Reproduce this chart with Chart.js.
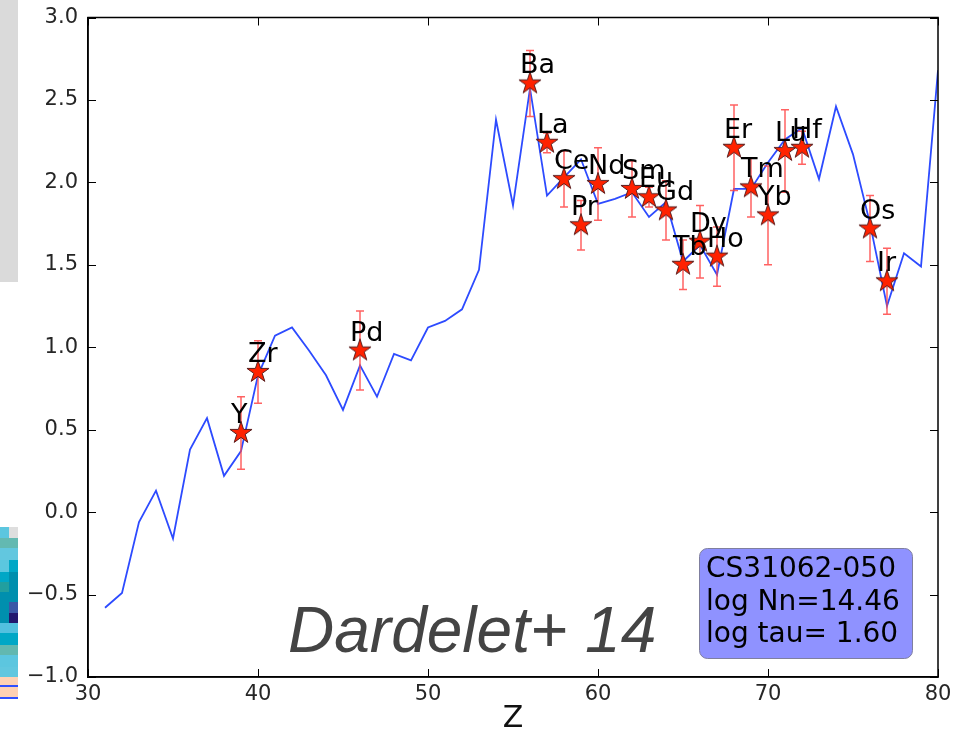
<!DOCTYPE html>
<html>
<head>
<meta charset="utf-8">
<script src="https://cdn.jsdelivr.net/npm/chart.js@4.4.1/dist/chart.umd.min.js"></script>
<style>
body { margin: 0; background: #fff; }
#wrap { position: relative; width: 966px; height: 737px; }
.cell { position: absolute; width: 9px; }
</style>
</head>
<body>
<div id="wrap">
  <canvas id="chart"></canvas>
</div>
<script>
// model curve, one value per Z
const modelZ = [31, 32, 33, 34, 35, 36, 37, 38, 39, 40,
                41, 42, 43, 44, 45, 46, 47, 48, 49, 50,
                51, 52, 53, 54, 55, 56, 57, 58, 59, 60,
                61, 62, 63, 64, 65, 66, 67, 68, 69, 70,
                71, 72, 73, 74, 75, 76, 77, 78, 79, 80];
const modelAbund = [-0.58, -0.49, -0.06, 0.13, -0.16, 0.38, 0.57, 0.22, 0.37, 0.83,
                    1.07, 1.12, 0.98, 0.83, 0.62, 0.89, 0.70, 0.96, 0.92, 1.12,
                    1.16, 1.23, 1.47, 2.38, 1.86, 2.57, 1.92, 2.03, 2.14, 1.87,
                    1.90, 1.94, 1.79, 1.88, 1.52, 1.62, 1.44, 1.96, 1.96, 2.12,
                    2.26, 2.33, 2.02, 2.46, 2.17, 1.75, 1.25, 1.57, 1.49, 2.68];

// observed abundances
const obsElements = ['Y', 'Zr', 'Pd', 'Ba', 'La', 'Ce', 'Pr', 'Nd', 'Sm', 'Eu', 'Gd',
                     'Tb', 'Dy', 'Ho', 'Er', 'Tm', 'Yb', 'Lu', 'Hf', 'Os', 'Ir'];
const obsZ = [39, 40, 46, 56, 57, 58, 59, 60, 62, 63, 64,
              65, 66, 67, 68, 69, 70, 71, 72, 76, 77];
const obsAbund = [0.48, 0.85, 0.98, 2.60, 2.24, 2.02, 1.74, 1.99, 1.96, 1.91, 1.83,
                  1.50, 1.64, 1.55, 2.21, 1.97, 1.80, 2.19, 2.21, 1.72, 1.40];
const obsErr = [0.22, 0.19, 0.24, 0.20, 0.06, 0.17, 0.15, 0.22, 0.17, 0.06, 0.18,
                0.15, 0.22, 0.18, 0.26, 0.18, 0.30, 0.25, 0.10, 0.20, 0.20];

const xTickValues = [30, 40, 50, 60, 70, 80];
const yTickValues = [-1.0, -0.5, 0.0, 0.5, 1.0, 1.5, 2.0, 2.5, 3.0];

const infoLines = ['CS31062-050', 'log Nn=14.46', 'log tau= 1.60'];
const creditText = 'Dardelet+ 14';

// bits of the neighbouring window showing at the left edge
var leftStrip = [
    [527, 11, '#5cc6df', '#dedede'], [538, 10, '#63b9b1', '#63b9b1'],
    [548, 12, '#62c7df', '#62c7df'], [560, 12, '#5bc7df', '#00a7c6'],
    [572, 10, '#00a7c6', '#008fae'], [582, 10, '#219f9f', '#008fae'],
    [592, 10, '#008fae', '#008fae'], [602, 11, '#008fae', '#3a58a6'],
    [613, 10, '#008fae', '#22186e'], [623, 10, '#52c0df', '#52c0df'],
    [633, 12, '#00a7c6', '#00a7c6'], [645, 10, '#62b8b0', '#62b8b0'],
    [655, 12, '#5cc6df', '#5cc6df'], [667, 10, '#61c7df', '#61c7df'],
    [677, 8, '#ffd1b3', '#ffd1b3'], [685, 2, '#3050ff', '#3050ff'],
    [687, 10, '#ffd1b3', '#ffd1b3'], [697, 2, '#3050ff', '#3050ff']
];
var wrap = document.getElementById('wrap');
var grey = document.createElement('div');
grey.style.cssText = 'position:absolute;left:0;top:0;width:18px;height:282px;background:#dadada';
wrap.appendChild(grey);
leftStrip.forEach(r => {
    [r[2], r[3]].forEach((col, i) => {
        var d = document.createElement('div');
        d.className = 'cell';
        d.style.left = (i * 9) + 'px';
        d.style.top = r[0] + 'px';
        d.style.height = r[1] + 'px';
        d.style.background = col;
        wrap.appendChild(d);
    });
});

// filled star like the matplotlib '*' marker
function makeStar(R) {
    var c = document.createElement('canvas');
    var s = Math.ceil(R * 2 + 4);
    c.width = s;
    c.height = s;
    var g = c.getContext('2d');
    var r = R * 0.382;
    g.beginPath();
    for (var i = 0; i < 10; i++) {
        var a = -Math.PI / 2 + i * Math.PI / 5;
        var rr = i % 2 ? r : R;
        g.lineTo(s / 2 + rr * Math.cos(a), s / 2 + rr * Math.sin(a));
    }
    g.closePath();
    g.fillStyle = '#ff2200';
    g.fill();
    g.strokeStyle = '#5a1e1e';
    g.lineWidth = 1;
    g.stroke();
    return c;
}

const FONT = '"DejaVu Sans"';
Chart.defaults.font.family = FONT;

const decorations = {
    id: 'decorations',
    beforeDatasetDraw(chart, args) {
        if (args.index !== 0) return;
        // error bars under the stars
        const ctx = chart.ctx, xs = chart.scales.x, ys = chart.scales.y;
        ctx.save();
        ctx.strokeStyle = 'rgba(255,70,70,0.85)';
        ctx.lineWidth = 1.5;
        obsZ.forEach((z, i) => {
            const px = xs.getPixelForValue(z);
            const top = ys.getPixelForValue(obsAbund[i] + obsErr[i]);
            const bot = ys.getPixelForValue(obsAbund[i] - obsErr[i]);
            ctx.beginPath();
            ctx.moveTo(px, top); ctx.lineTo(px, bot);
            ctx.moveTo(px - 4, top); ctx.lineTo(px + 4, top);
            ctx.moveTo(px - 4, bot); ctx.lineTo(px + 4, bot);
            ctx.stroke();
        });
        ctx.restore();
    },
    afterDatasetsDraw(chart) {
        const ctx = chart.ctx, xs = chart.scales.x, ys = chart.scales.y;
        const a = chart.chartArea;
        ctx.save();

        // element names
        ctx.fillStyle = '#000';
        ctx.font = '27px ' + FONT;
        ctx.textAlign = 'left';
        ctx.textBaseline = 'alphabetic';
        obsElements.forEach((el, i) => {
            ctx.fillText(el, xs.getPixelForValue(obsZ[i]) - 10, ys.getPixelForValue(obsAbund[i]) - 10);
        });

        // frame and inward ticks
        ctx.strokeStyle = '#000';
        ctx.lineWidth = 1.5;
        ctx.strokeRect(a.left, a.top, a.right - a.left, a.bottom - a.top);
        ctx.lineWidth = 1;
        ctx.beginPath();
        xTickValues.forEach(v => {
            const px = Math.round(xs.getPixelForValue(v)) + 0.5;
            ctx.moveTo(px, a.bottom); ctx.lineTo(px, a.bottom - 8);
            ctx.moveTo(px, a.top); ctx.lineTo(px, a.top + 8);
        });
        yTickValues.forEach(v => {
            const py = Math.round(ys.getPixelForValue(v)) + 0.5;
            ctx.moveTo(a.left, py); ctx.lineTo(a.left + 8, py);
            ctx.moveTo(a.right, py); ctx.lineTo(a.right - 8, py);
        });
        ctx.stroke();

        // credit
        ctx.fillStyle = '#444';
        ctx.font = 'italic 64px "Liberation Sans"';
        ctx.fillText(creditText, a.left + 200, a.bottom - 25);

        // info box
        const bx = a.right - 239, by = a.bottom - 129, bw = 213, bh = 110;
        ctx.beginPath();
        ctx.roundRect(bx + 0.5, by + 0.5, bw, bh, 8);
        ctx.fillStyle = '#8f92ff';
        ctx.fill();
        ctx.strokeStyle = '#7f7f9f';
        ctx.lineWidth = 1;
        ctx.stroke();
        ctx.fillStyle = '#000';
        ctx.font = '28px ' + FONT;
        infoLines.forEach((t, i) => {
            ctx.fillText(t, bx + 7, by + 29 + i * 32.5);
        });
        ctx.restore();
    }
};

new Chart(document.getElementById('chart'), {
    type: 'scatter',
    data: {
        datasets: [{
            label: 'observed',
            data: obsZ.map((z, i) => ({x: z, y: obsAbund[i]})),
            pointStyle: makeStar(11.6),
            pointRadius: 12,
            showLine: false
        }, {
            label: 'model',
            type: 'line',
            data: modelZ.map((z, i) => ({x: z, y: modelAbund[i]})),
            borderColor: 'rgb(45,75,255)',
            borderWidth: 1.8,
            pointRadius: 0,
            tension: 0,
            fill: false
        }]
    },
    options: {
        responsive: true,
        maintainAspectRatio: false,
        animation: false,
        events: [],
        layout: { padding: { top: 17.5, right: 28, left: 0, bottom: 0 } },
        plugins: { legend: { display: false }, tooltip: { enabled: false } },
        scales: {
            x: {
                type: 'linear',
                min: 30,
                max: 80,
                afterBuildTicks: s => { s.ticks = xTickValues.map(v => ({value: v})); },
                afterFit: s => { s.height = 60; s.paddingLeft = 0; s.paddingRight = 0; },
                grid: { display: false, drawTicks: false },
                border: { display: true, color: '#000', width: 1.5 },
                ticks: { color: '#262626', font: { size: 21 }, padding: 5, maxRotation: 0 },
                title: { display: true, text: 'Z', color: '#111', font: { size: 30 }, padding: { top: 0, bottom: 0 } }
            },
            y: {
                type: 'linear',
                min: -1,
                max: 3,
                afterBuildTicks: s => { s.ticks = yTickValues.map(v => ({value: v})); },
                afterFit: s => { s.width = 88; s.paddingTop = 0; s.paddingBottom = 0; },
                grid: { display: false, drawTicks: false },
                border: { display: true, color: '#000', width: 1.5 },
                ticks: {
                    color: '#262626',
                    font: { size: 21 },
                    padding: 10,
                    callback: v => (v < 0 ? '\u2212' : '') + Math.abs(v).toFixed(1)
                }
            }
        }
    },
    plugins: [decorations]
});
</script>
</body>
</html>
